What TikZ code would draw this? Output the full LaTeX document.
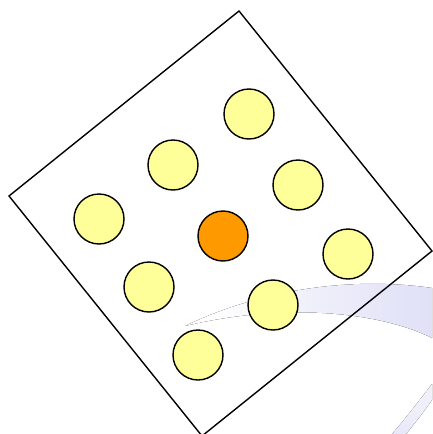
\documentclass[tikz,border=0pt]{standalone}
\definecolor{paleyellow}{RGB}{255,255,153}
\definecolor{hotorange}{RGB}{255,153,0}
\definecolor{lav}{RGB}{204,204,242}
\definecolor{lavmid}{RGB}{222,222,247}
\definecolor{lavlight}{RGB}{240,240,251}
\pgfdeclarehorizontalshading{swoosh}{100bp}{color(0bp)=(white); color(30bp)=(white); color(50bp)=(lavlight); color(78bp)=(lavmid); color(100bp)=(lav)}
\pgfdeclareverticalshading{swooshlow}{100bp}{color(0bp)=(lavmid); color(50bp)=(lavlight); color(100bp)=(lavlight)}
\begin{document}
\begin{tikzpicture}[x=1pt,y=-1pt,
  dot/.style={circle,draw=black,line width=1.4pt,minimum size=50pt,inner sep=0pt,fill=paleyellow},
  hub/.style={dot,fill=hotorange}]
\useasboundingbox (0,0) rectangle (432,434);
% faint background swoosh
\fill[shading=swoosh] (185,326) .. controls (260,290) and (350,276) .. (432,288)
  -- (432,338) .. controls (380,312) and (285,302) .. (185,326) -- cycle;
\fill[shading=swooshlow] (432,384) .. controls (418,402) and (406,418) .. (392,434)
  -- (406,434) .. controls (416,422) and (425,410) .. (432,400) -- cycle;
% rotated frame
\coordinate (T) at (239,11);
\coordinate (R) at (432,251);
\coordinate (B) at (202,436);
\coordinate (L) at (9,196);
\draw[line width=1.4pt,line join=miter] (T) -- (R) -- (B) -- (L) -- cycle;
% circles
\node[dot] (c1) at (249,114) {};
\node[dot] (c2) at (173,165) {};
\node[dot] (c3) at (298,185) {};
\node[dot] (c4) at (99,219) {};
\node[hub] (c5) at (223,236) {};
\node[dot] (c6) at (348,254) {};
\node[dot] (c7) at (149,287) {};
\node[dot] (c8) at (273,305) {};
\node[dot] (c9) at (198,355) {};
\end{tikzpicture}
\end{document}
